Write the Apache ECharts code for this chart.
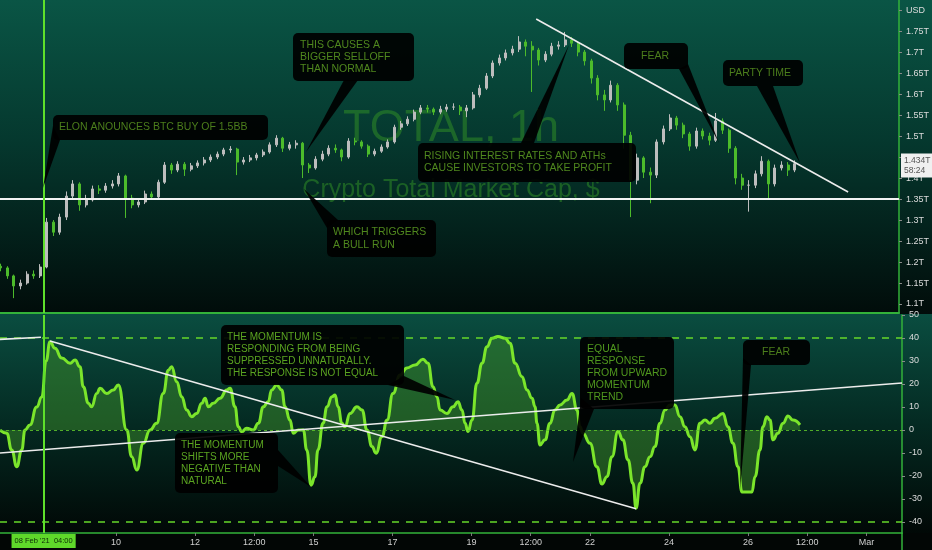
<!DOCTYPE html>
<html>
<head>
<meta charset="utf-8">
<script src="https://cdn.jsdelivr.net/npm/echarts@6/dist/echarts.min.js"></script>
<style>
html,body{margin:0;padding:0;background:#000;}
#c{width:932px;height:550px;}
</style>
</head>
<body>
<div id="c"></div>
<script>
// Time is counted in hours from 07 Feb 2021 00:00. Candles are 4-hour bars.
const candleStartHour = 2;
const candleStepHours = 4;

const opens = [
1.190,1.186,1.167,1.143,1.150,1.171,1.167,1.188,1.295,1.271,
1.307,1.357,1.386,1.336,1.348,1.374,1.371,1.381,1.386,1.405,
1.352,1.336,1.343,1.362,1.355,1.390,1.431,1.419,1.433,1.421,
1.429,1.436,1.443,1.450,1.457,1.467,1.469,1.438,1.443,1.448,
1.455,1.462,1.479,1.495,1.471,1.479,1.483,1.431,1.424,1.445,
1.457,1.471,1.467,1.450,1.488,1.486,1.476,1.457,1.464,1.474,
1.486,1.521,1.529,1.540,1.557,1.567,1.564,1.557,1.564,1.569,
1.569,1.560,1.567,1.598,1.614,1.643,1.674,1.686,1.698,1.707,
1.724,1.714,1.705,1.681,1.695,1.714,1.717,1.729,1.721,1.700,
1.679,1.638,1.598,1.586,1.621,1.574,1.502,1.395,1.448,1.414,
1.407,1.486,1.517,1.543,1.526,1.505,1.476,1.512,1.500,1.490,
1.536,1.514,1.471,1.400,1.383,1.383,1.410,1.440,1.386,1.424,
1.431,1.419];

const closes = [
1.186,1.167,1.143,1.150,1.171,1.167,1.188,1.295,1.271,1.307,
1.357,1.386,1.336,1.348,1.374,1.371,1.381,1.386,1.405,1.352,
1.336,1.343,1.362,1.355,1.390,1.431,1.419,1.433,1.421,1.429,
1.436,1.443,1.450,1.457,1.467,1.469,1.438,1.443,1.448,1.455,
1.462,1.479,1.495,1.471,1.479,1.483,1.431,1.424,1.445,1.457,
1.471,1.467,1.450,1.488,1.486,1.476,1.457,1.464,1.474,1.486,
1.521,1.529,1.540,1.557,1.567,1.564,1.557,1.564,1.569,1.569,
1.560,1.567,1.598,1.614,1.643,1.674,1.686,1.698,1.707,1.724,
1.714,1.705,1.681,1.695,1.714,1.717,1.729,1.721,1.700,1.679,
1.638,1.598,1.586,1.621,1.574,1.502,1.395,1.448,1.414,1.407,
1.486,1.517,1.543,1.526,1.505,1.476,1.512,1.500,1.490,1.536,
1.514,1.471,1.400,1.383,1.383,1.410,1.440,1.386,1.424,1.431,
1.419,1.434];

const highs = [
1.196,1.190,1.170,1.158,1.178,1.180,1.195,1.305,1.300,1.315,
1.368,1.395,1.390,1.360,1.382,1.383,1.388,1.395,1.412,1.408,
1.360,1.352,1.370,1.368,1.396,1.438,1.436,1.440,1.438,1.436,
1.442,1.450,1.456,1.463,1.472,1.476,1.472,1.450,1.455,1.460,
1.468,1.485,1.502,1.498,1.486,1.490,1.486,1.436,1.452,1.465,
1.478,1.480,1.470,1.495,1.496,1.490,1.480,1.470,1.480,1.492,
1.527,1.536,1.547,1.563,1.574,1.574,1.568,1.572,1.576,1.578,
1.574,1.574,1.605,1.622,1.650,1.680,1.694,1.706,1.715,1.738,
1.730,1.726,1.710,1.702,1.722,1.726,1.748,1.736,1.725,1.705,
1.684,1.645,1.610,1.632,1.626,1.580,1.510,1.458,1.452,1.425,
1.492,1.525,1.552,1.548,1.532,1.510,1.520,1.518,1.508,1.555,
1.542,1.518,1.476,1.410,1.395,1.418,1.452,1.444,1.432,1.440,
1.438,1.442];

const lows = [
1.178,1.160,1.114,1.135,1.146,1.160,1.162,1.185,1.262,1.265,
1.300,1.350,1.322,1.330,1.344,1.362,1.365,1.375,1.380,1.305,
1.328,1.330,1.338,1.348,1.350,1.386,1.410,1.414,1.405,1.416,
1.424,1.430,1.438,1.445,1.452,1.460,1.407,1.432,1.438,1.442,
1.450,1.458,1.474,1.462,1.466,1.470,1.400,1.412,1.420,1.440,
1.452,1.460,1.440,1.446,1.478,1.470,1.450,1.452,1.460,1.470,
1.482,1.515,1.524,1.535,1.552,1.556,1.550,1.552,1.558,1.562,
1.550,1.545,1.563,1.592,1.610,1.638,1.668,1.680,1.692,1.700,
1.690,1.605,1.668,1.676,1.690,1.706,1.712,1.712,1.690,1.668,
1.625,1.585,1.560,1.580,1.560,1.470,1.307,1.385,1.400,1.340,
1.400,1.480,1.512,1.515,1.495,1.465,1.470,1.492,1.478,1.486,
1.505,1.460,1.385,1.372,1.320,1.376,1.404,1.352,1.380,1.418,
1.405,1.414];

// Momentum oscillator, points (hour, value)
const oscHours = [
1.5,5.6,8.6,11.7,14.7,16.7,19.7,23.8,26.9,29.5,
31.9,34.9,39.0,44.1,47.1,50.1,52.1,55.2,57.2,60.3,
62.3,66.3,70.4,73.4,78.5,81.5,84.6,88.6,92.7,96.7,
100.7,103.8,105.8,108.9,111.9,114.9,118.0,121.0,124.1,126.1,
128.1,131.1,135.2,139.3,141.3,144.3,146.3,148.4,151.4,155.4,
158.5,161.5,164.5,166.6,169.6,172.7,174.7,177.7,179.7,182.8,
185.8,187.9,190.5,192.9,194.7,197.8,200.2,203.2,205.1,206.9,
209.3,211.1,214.2,218.4,221.5,224.5,227.5,230.0,233.6,236.7,
240.3,244.6,248.8,253.7,258.5,261.6,264.6,267.0,268.9,273.1,
276.8,279.8,282.2,284.1,285.9,288.3,291.3,294.4,297.4,300.5,
304.1,308.4,311.4,314.5,318.7,321.7,324.8,326.6,327.8,329.6,
332.7,335.7,338.7,341.8,346.0,349.1,352.1,353.9,355.7,360.0,
364.2,367.3,370.3,373.4,377.0,380.0,383.1,386.1,388.0,390.4,
393.4,396.5,399.5,402.5,405.6,408.6,411.6,414.7,417.7,420.7,
423.8,426.8,429.9,432.9,435.9,440.8,443.8,446.9,449.9,452.4,
455.4,458.4,460.3,463.3,465.1,467.5,469.4,471.2,474.2,477.3,
480.3,483.3,487.6];

const oscValues = [
0,-1.4,-8.7,-16,-8.7,0,2.2,10,14.3,30,
38.4,35.5,31.3,29,30.4,27.5,18.8,11.6,10.1,15.9,
18.1,15.9,17.4,19.6,0,-11.6,-17.4,-5.8,0,2.9,
15.9,26,27.5,21,14.5,8.7,5.8,7.2,11.6,13.8,
10.1,11.6,13.8,17.4,18.1,10.1,1.4,-0.7,0.7,0,
2.9,10.1,12.3,17.4,19.6,17.4,10.1,4.3,-1.4,0,
0,-8.7,-24,-20.3,-8.7,2.9,10.1,14.5,15.2,10.1,
2.9,1.4,7.2,10.1,8.7,0,-7.2,-10.1,-2.9,4.3,
15.9,23.9,27,28.3,30.8,29,18.8,14.5,8.7,7.2,
10.1,12.3,8.7,2.9,-0.7,4.3,20.3,29,36.2,39.9,
40.6,39.9,37.7,29,23.2,17.4,13.8,10.1,2.9,-6.5,
-4.3,2.9,8.7,10.9,13,15.9,8.7,1.4,-1.4,-5.8,
-16,-23.5,-20.3,-11.6,-0.7,-4.3,-13,-23.2,-34,-23.2,
-16,-11.6,-7.2,2.9,8.7,10.9,10.9,5.8,1.4,-2.9,
-8.7,2.9,4.3,2.9,5.1,7.2,1.4,-5.8,-16,-27,
-27,-27,-20.3,-8.7,1.4,5.8,4.3,-4.3,-1.4,2.9,
6.1,4.3,2.2];

// Axis ticks and labels
const priceTicks = [1.1,1.15,1.2,1.25,1.3,1.35,1.4,1.45,1.5,1.55,1.6,1.65,1.7,1.75,1.8];
const priceUnitTick = 1.8;
const momentumTicks = [-40,-30,-20,-10,0,10,20,30,40,50];
const timeTickHours = [72,120,156,192,240,288,324,360,408,456,492,528];
const timeTickLabels = ['10','12','12:00','15','17','19','12:00','22','24','26','12:00','Mar'];

// Drawn levels / trend lines (data units)
const cursorHour = 28;
const cursorLabel = "08 Feb '21  04:00";
const supportLevel = 1.349;
const resistanceLine = [[328.4, 1.7786], [518.6, 1.3667]];
const momentumTrendLines = [
  [[1.5, 39.4], [26.4, 40.3]],
  [[31.9, 38.7], [388, -34.3]],
  [[1.5, -10.0], [549.6, 20.4]]
];
const momentumLevels = [40, -40];
const lastPrice = 1.434;
const countdown = '58:24';

// ---------------- chart ----------------
const FONT = '"Liberation Sans", Arial, sans-serif';
const AXIS_GREEN = '#33b23a';
const chart = echarts.init(document.getElementById('c'), null, {renderer: 'canvas', width: 932, height: 550});

const candleData = opens.map((o, i) => [candleStartHour + i * candleStepHours, o, closes[i], lows[i], highs[i]]);
const oscData = oscHours.map((h, i) => [h, oscValues[i]]);

const notes = [
  {rect: [53, 115, 215, 25], tail: [[53, 126], [60, 140], [43, 188]], text: 'ELON ANOUNCES BTC BUY OF 1.5BB', tx: 59, color: '#4b7e1c', size: 10.5, lh: 12},
  {rect: [293, 33, 121, 48], tail: [[344, 80], [358, 80], [306, 152]], text: 'THIS CAUSES A\nBIGGER SELLOFF\nTHAN NORMAL', tx: 300, color: '#4f881e', size: 10.5, lh: 12},
  {rect: [327, 220, 109, 37], tail: [[327, 228], [338, 220], [304, 189]], text: 'WHICH TRIGGERS\nA BULL RUN', tx: 333, color: '#4f881e', size: 10.5, lh: 13},
  {rect: [418, 143, 218, 39], tail: [[521, 143], [534, 143], [569, 45]], text: 'RISING INTEREST RATES AND ATHs\nCAUSE INVESTORS TO TAKE PROFIT', tx: 424, color: '#4f881e', size: 10.5, lh: 12},
  {rect: [624, 43, 64, 26], tail: [[679, 69], [688, 64], [719, 143]], text: 'FEAR', tx: 655, align: 'center', color: '#4b7e1c', size: 10.5, lh: 12},
  {rect: [723, 60, 80, 26], tail: [[757, 86], [773, 86], [800, 163]], text: 'PARTY TIME', tx: 729, color: '#4b7e1c', size: 10.5, lh: 12},
  {rect: [221, 325, 183, 60], tail: [[388, 385], [404, 376], [455, 400]], text: 'THE MOMENTUM IS\nRESPONDING FROM BEING\nSUPPRESSED UNNATURALLY.\nTHE RESPONSE IS NOT EQUAL', tx: 227, color: '#5aa421', size: 10, lh: 12},
  {rect: [175, 433, 103, 60], tail: [[278, 450], [278, 466], [311, 487]], text: 'THE MOMENTUM\nSHIFTS MORE\nNEGATIVE THAN\nNATURAL', tx: 181, color: '#5aa421', size: 10, lh: 12},
  {rect: [580, 337, 94, 72], tail: [[581, 398], [594, 409], [573, 462]], text: 'EQUAL\nRESPONSE\nFROM UPWARD\nMOMENTUM\nTREND', tx: 587, color: '#4f981e', size: 10.5, lh: 12},
  {rect: [743, 340, 67, 25], tail: [[743, 358], [751, 365], [740, 490]], text: 'FEAR', tx: 776, align: 'center', color: '#4b7e1c', size: 10.5, lh: 12}
];

const graphics = [
  {type: 'rect', z: -100, silent: true, shape: {x: 0, y: 0, width: 932, height: 314},
   style: {fill: new echarts.graphic.LinearGradient(0, 0, 0, 1, [
     {offset: 0, color: '#0a5545'}, {offset: 0.45, color: '#05382e'}, {offset: 1, color: '#010c0a'}])}},
  {type: 'rect', z: -100, silent: true, shape: {x: 0, y: 314, width: 932, height: 219},
   style: {fill: new echarts.graphic.LinearGradient(0, 0, 0, 1, [
     {offset: 0, color: '#0a4d40'}, {offset: 0.5, color: '#042a22'}, {offset: 1, color: '#010806'}])}},
  {type: 'rect', z: -100, silent: true, shape: {x: 0, y: 533, width: 932, height: 17}, style: {fill: '#020605'}},
  {type: 'line', z: 5, silent: true, shape: {x1: 902, y1: 533, x2: 902, y2: 550}, style: {stroke: AXIS_GREEN, lineWidth: 1.5}},
  {type: 'text', z: 1, silent: true, style: {text: 'TOTAL, 1h', x: 451, y: 129, align: 'center', verticalAlign: 'middle', font: '45px ' + FONT, fill: 'rgba(48,140,38,0.55)'}},
  {type: 'text', z: 1, silent: true, style: {text: 'Crypto Total Market Cap, $', x: 451, y: 190, align: 'center', verticalAlign: 'middle', font: '25px ' + FONT, fill: 'rgba(48,140,38,0.55)'}}
];
notes.forEach(n => {
  graphics.push({type: 'polygon', z: 100, silent: true, shape: {points: n.tail}, style: {fill: 'rgba(0,0,0,0.92)'}});
  graphics.push({type: 'rect', z: 100, silent: true, shape: {x: n.rect[0], y: n.rect[1], width: n.rect[2], height: n.rect[3], r: 5}, style: {fill: 'rgba(0,0,0,0.92)'}});
  graphics.push({type: 'text', z: 101, silent: true, style: {
    text: n.text, x: n.tx, y: n.rect[1] + n.rect[3] / 2, align: n.align || 'left', verticalAlign: 'middle',
    font: n.size + 'px ' + FONT, lineHeight: n.lh, fill: n.color}});
});

const whiteLine = {color: '#ececec', width: 1.6, type: 'solid'};

const option = {
  animation: false,
  backgroundColor: '#000',
  grid: [
    {left: 0, top: 0, width: 902, height: 313},
    {left: 0, top: 315, width: 902, height: 218}
  ],
  xAxis: [
    {type: 'value', gridIndex: 0, min: 1.5, max: 549.6,
     axisLine: {show: true, onZero: false, lineStyle: {color: AXIS_GREEN, width: 2}},
     axisTick: {show: false}, axisLabel: {show: false}, splitLine: {show: false}},
    {type: 'value', gridIndex: 1, min: 1.5, max: 549.6,
     axisLine: {show: true, onZero: false, lineStyle: {color: AXIS_GREEN, width: 1.5}},
     axisTick: {show: true, customValues: timeTickHours, length: 3, lineStyle: {color: '#7a7a7a'}},
     axisLabel: {customValues: timeTickHours, formatter: v => {
        const i = timeTickHours.indexOf(v); return i >= 0 ? timeTickLabels[i] : ''; },
       color: '#cfcfcf', fontSize: 9, fontFamily: FONT, margin: 5},
     splitLine: {show: false}}
  ],
  yAxis: [
    {type: 'value', gridIndex: 0, position: 'right', min: 1.0786, max: 1.824,
     axisLine: {show: true, onZero: false, lineStyle: {color: AXIS_GREEN, width: 1.5}},
     axisTick: {show: true, customValues: priceTicks, length: 3, lineStyle: {color: '#8a8a8a'}},
     axisLabel: {customValues: priceTicks, formatter: v => (v === priceUnitTick ? 'USD' : (+v.toFixed(2)) + 'T'),
       color: '#dcdcdc', fontSize: 9, fontFamily: FONT, margin: 7},
     splitLine: {show: false}},
    {type: 'value', gridIndex: 1, position: 'right', min: -44.8, max: 50,
     axisLine: {show: true, onZero: false, lineStyle: {color: AXIS_GREEN, width: 1.5}},
     axisTick: {show: true, customValues: momentumTicks, length: 3, lineStyle: {color: '#8a8a8a'}},
     axisLabel: {customValues: momentumTicks, color: '#dcdcdc', fontSize: 9, fontFamily: FONT, margin: 7},
     splitLine: {show: false}}
  ],
  series: [
    {
      type: 'candlestick', xAxisIndex: 0, yAxisIndex: 0, data: candleData,
      encode: {x: 0, y: [1, 2, 3, 4]},
      barWidth: 2.5,
      itemStyle: {color: '#bdbdbd', color0: '#4cbb2b', borderColor: '#bdbdbd', borderColor0: '#4cbb2b', borderWidth: 1},
      markLine: {
        silent: true, symbol: ['none', 'none'], animation: false,
        label: {show: false},
        data: [
          {yAxis: supportLevel, lineStyle: {color: '#f2f2f2', width: 2, type: 'solid'}},
          [{coord: resistanceLine[0], lineStyle: whiteLine}, {coord: resistanceLine[1]}],
          {xAxis: cursorHour, lineStyle: {color: '#5ee02b', width: 2, type: 'solid'}}
        ]
      }
    },
    {
      type: 'line', xAxisIndex: 0, yAxisIndex: 0, data: [[candleStartHour + (closes.length - 1) * candleStepHours, lastPrice]],
      showSymbol: false, lineStyle: {width: 0}, z: 10,
      markLine: {
        silent: true, symbol: ['none', 'none'], animation: false,
        data: [
          {yAxis: lastPrice, lineStyle: {color: 'rgba(0,0,0,0)', width: 1},
           label: {show: true, position: 'end', formatter: lastPrice + 'T\n' + countdown, backgroundColor: '#f0f0f0',
             color: '#555', fontSize: 8.5, lineHeight: 10, padding: [2, 3], distance: 2, fontFamily: FONT}}
        ]
      }
    },
    {
      type: 'line', xAxisIndex: 1, yAxisIndex: 1, data: oscData,
      showSymbol: false, smooth: true, smoothMonotone: 'x',
      lineStyle: {color: '#7be52b', width: 3},
      areaStyle: {color: 'rgba(72,160,44,0.6)'},
      markLine: {
        silent: true, symbol: ['none', 'none'], animation: false,
        label: {show: false},
        data: [
          ...momentumLevels.map(v => ({yAxis: v, lineStyle: {color: '#66d82a', width: 1.5, type: [7, 7]}})),
          {yAxis: 0, lineStyle: {color: '#5fc42a', width: 1, type: [3, 3], opacity: 0.85}},
          ...momentumTrendLines.map(l => [{coord: l[0], lineStyle: whiteLine}, {coord: l[1]}]),
          {xAxis: cursorHour, lineStyle: {color: '#5ee02b', width: 2, type: 'solid'},
           label: {show: true, position: 'start', formatter: cursorLabel, backgroundColor: '#5fd82a',
             color: '#0d2a07', fontSize: 7.5, padding: [3, 3], distance: 1, fontFamily: FONT}}
        ]
      }
    }
  ],
  graphic: graphics
};
chart.setOption(option);
</script>
</body>
</html>
